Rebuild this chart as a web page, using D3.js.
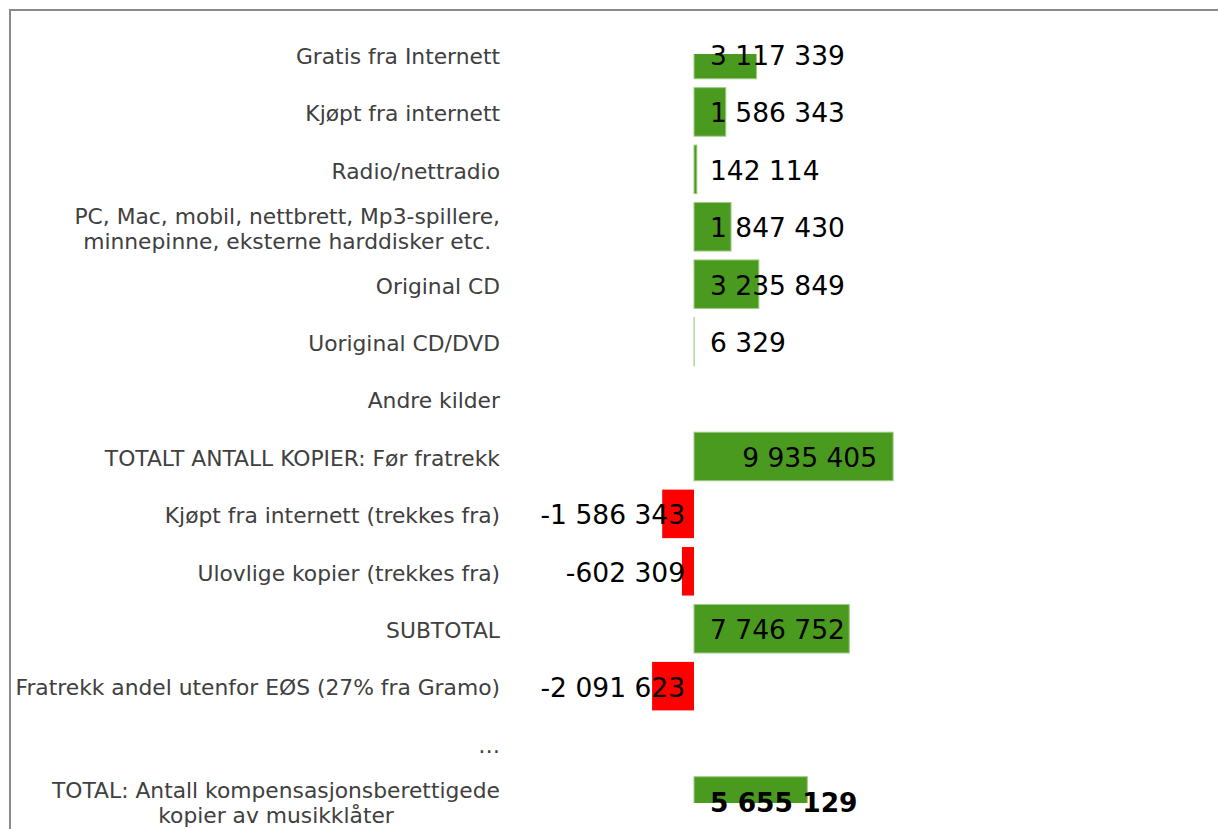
<!DOCTYPE html>
<html>
<head>
<meta charset="utf-8">
<script src="https://cdn.jsdelivr.net/npm/d3@7"></script>
<style>
  html, body { margin: 0; padding: 0; background: #fff; }
  svg { display: block; }
</style>
</head>
<body>
<svg id="chart" width="1218" height="829"></svg>
<script>
const categories = [
  "Gratis fra Internett",
  "Kjøpt fra internett",
  "Radio/nettradio",
  "PC, Mac, mobil, nettbrett, Mp3-spillere,\nminnepinne, eksterne harddisker etc.",
  "Original CD",
  "Uoriginal CD/DVD",
  "Andre kilder",
  "TOTALT ANTALL KOPIER: Før fratrekk",
  "Kjøpt fra internett (trekkes fra)",
  "Ulovlige kopier (trekkes fra)",
  "SUBTOTAL",
  "Fratrekk andel utenfor EØS (27% fra Gramo)",
  "\u2026",
  "TOTAL: Antall kompensasjonsberettigede\nkopier av musikklåter"
];
const values = [3117339, 1586343, 142114, 1847430, 3235849, 6329, null, 9935405, -1586343, -602309, 7746752, -2091623, null, 5655129];
const boldRows = ["TOTAL: Antall kompensasjonsberettigede\nkopier av musikklåter"];
const xDomain = [-5000000, 15000000];

const svg = d3.select("#chart");
const W = 1218, H = 829;

// frame
svg.append("rect").attr("x", 10).attr("y", 10).attr("width", W + 20).attr("height", H + 20)
  .attr("fill", "none").attr("stroke", "#8a8a8a").attr("stroke-width", 2);

const x = d3.scaleLinear().domain(xDomain).range([593.8, 994.6]);
const y = d3.scaleBand().domain(categories).range([25.8, 829.7]).paddingInner(0.155).paddingOuter(0.0775);

const fmt = d3.formatLocale({decimal: ",", thousands: " ", grouping: [3], currency: ["", ""], minus: "-"}).format(",d");

const data = categories.map((c, i) => ({cat: c, v: values[i]}));
const withVal = data.filter(d => d.v !== null);
const maxV = d3.max(values);

svg.append("defs").append("clipPath").attr("id", "plotclip")
  .append("rect").attr("x", 0).attr("y", 54).attr("width", W).attr("height", 803 - 54);

const plot = svg.append("g").attr("clip-path", "url(#plotclip)");

plot.selectAll("rect.bar").data(withVal).join("rect")
  .attr("class", "bar")
  .attr("x", d => x(Math.min(0, d.v)))
  .attr("width", d => Math.abs(x(d.v) - x(0)))
  .attr("y", d => y(d.cat))
  .attr("height", y.bandwidth())
  .attr("fill", d => d.v < 0 ? "#ff0000" : "#4a9a1f")
  .attr("stroke", d => d.v < 0 ? "none" : "#9fcb84")
  .attr("stroke-width", 1);

// category labels (multi-line blocks are centred, block right-aligned)
const catG = svg.append("g");
const labelRight = 500;
data.forEach(d => {
  const lines = d.cat.split("\n");
  const cy = y(d.cat) + y.bandwidth() / 2 + 1.5;
  const lh = 25;
  const t = catG.append("text")
    .attr("font-family", "Verdana, 'DejaVu Sans', sans-serif")
    .attr("font-size", "21.8px")
    .attr("fill", "#404040");
  const spans = lines.map((ln, k) => t.append("tspan")
      .attr("y", cy + (k - (lines.length - 1) / 2) * lh)
      .attr("dy", "0.36em")
      .text(ln));
  if (lines.length === 1) {
    t.attr("text-anchor", "end");
    spans[0].attr("x", labelRight);
  } else {
    const maxW = d3.max(spans, s => s.node().getComputedTextLength());
    t.attr("text-anchor", "middle");
    spans.forEach(s => s.attr("x", labelRight - maxW / 2));
  }
});

// value labels
svg.append("g").selectAll("text").data(withVal).join("text")
  .attr("font-family", "Verdana, 'DejaVu Sans', sans-serif")
  .attr("font-size", "26.5px")
  .attr("font-weight", d => boldRows.includes(d.cat) ? "bold" : "normal")
  .attr("fill", "#000")
  .attr("text-anchor", d => (d.v < 0 || d.v === maxV) ? "end" : "start")
  .attr("x", d => d.v < 0 ? x(0) - 9 : (d.v === maxV ? x(d.v) - 16 : x(0) + 16))
  .attr("y", d => y(d.cat) + y.bandwidth() / 2 + 1)
  .attr("dy", "0.36em")
  .text(d => fmt(d.v));
</script>
</body>
</html>
